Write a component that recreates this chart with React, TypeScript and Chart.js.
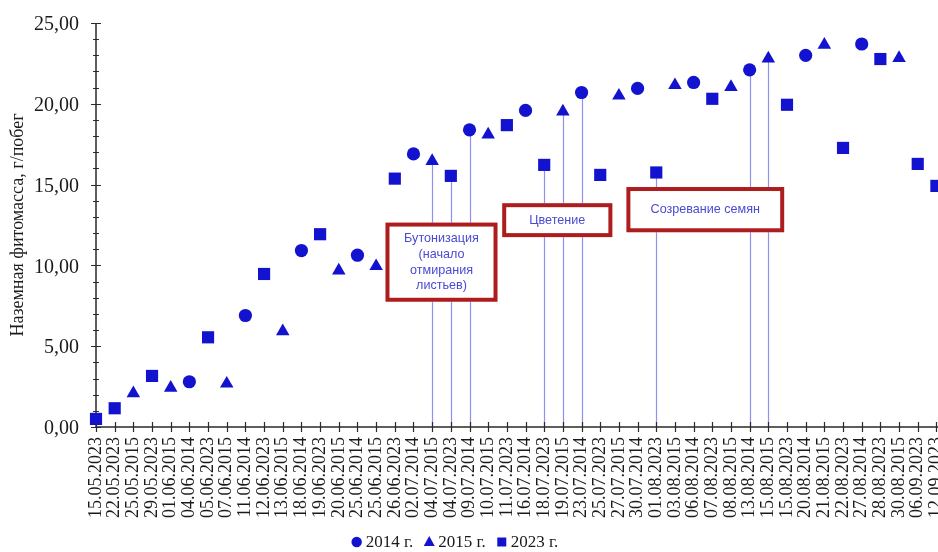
import { useEffect, useRef } from 'react';
import { Chart, registerables } from 'chart.js';

Chart.register(...registerables);

// Sampling dates along the x axis (all three seasons merged in calendar order)
const categories = [
  '15.05.2023', '22.05.2023', '25.05.2015', '29.05.2023', '01.06.2015', '04.06.2014',
  '05.06.2023', '07.06.2015', '11.06.2014', '12.06.2023', '13.06.2015', '18.06.2014',
  '19.06.2023', '20.06.2015', '25.06.2014', '25.06.2015', '26.06.2023', '02.07.2014',
  '04.07.2015', '04.07.2023', '09.07.2014', '10.07.2015', '11.07.2023', '16.07.2014',
  '18.07.2023', '19.07.2015', '23.07.2014', '25.07.2023', '27.07.2015', '30.07.2014',
  '01.08.2023', '03.08.2015', '06.08.2014', '07.08.2023', '08.08.2015', '13.08.2014',
  '15.08.2015', '15.08.2023', '20.08.2014', '21.08.2015', '22.08.2023', '27.08.2014',
  '28.08.2023', '30.08.2015', '06.09.2023', '12.09.2023',
];

const dates2014 = [
  '04.06.2014', '11.06.2014', '18.06.2014', '25.06.2014', '02.07.2014', '09.07.2014',
  '16.07.2014', '23.07.2014', '30.07.2014', '06.08.2014', '13.08.2014', '20.08.2014',
  '27.08.2014',
];
const mass2014 = [2.8, 6.9, 10.92, 10.63, 16.9, 18.39, 19.59, 20.7, 20.95, 21.32, 22.1, 23.0, 23.7];

const dates2015 = [
  '25.05.2015', '01.06.2015', '07.06.2015', '13.06.2015', '20.06.2015', '25.06.2015',
  '04.07.2015', '10.07.2015', '19.07.2015', '27.07.2015', '03.08.2015', '08.08.2015',
  '15.08.2015', '21.08.2015', '30.08.2015',
];
const mass2015 = [2.08, 2.42, 2.68, 5.92, 9.68, 9.95, 16.45, 18.1, 19.52, 20.5, 21.15, 21.03, 22.8, 23.65, 22.83];

const dates2023 = [
  '15.05.2023', '22.05.2023', '29.05.2023', '05.06.2023', '12.06.2023', '19.06.2023',
  '26.06.2023', '04.07.2023', '11.07.2023', '18.07.2023', '25.07.2023', '01.08.2023',
  '07.08.2023', '15.08.2023', '22.08.2023', '28.08.2023', '06.09.2023', '12.09.2023',
];
const mass2023 = [0.5, 1.16, 3.16, 5.55, 9.47, 11.93, 15.37, 15.54, 18.68, 16.22, 15.6, 15.75, 20.31, 19.94, 17.27, 22.77, 16.28, 14.92];

// Points that get a drop line down to the date axis
const dropLineDates = [
  '04.07.2015', '04.07.2023', '09.07.2014', '18.07.2023', '19.07.2015', '23.07.2014',
  '01.08.2023', '13.08.2014', '15.08.2015',
];

// Phenological phase labels (x in category index units, y in g/shoot)
const phaseBoxes = [
  { lines: ['Бутонизация', '(начало', 'отмирания', 'листьев)'], xMin: 15.5, xMax: 21.5, yMin: 7.75, yMax: 12.65 },
  { lines: ['Цветение'], xMin: 21.75, xMax: 27.65, yMin: 11.75, yMax: 13.85 },
  { lines: ['Созревание семян'], xMin: 28.4, xMax: 36.85, yMin: 12.05, yMax: 14.85 },
];

const yTitle = 'Наземная фитомасса, г/побег';

const MARK = '#1212cf';
const AXIS = '#2a2a2a';
const SERIF = '"Liberation Serif", "Times New Roman", serif';
const CANVAS_W = 945;
const CANVAS_H = 552;

const toPoints = (dates: string[], values: number[]) => dates.map((d, i) => ({ x: d, y: values[i] }));

const axisDecor = {
  id: 'axisDecor',
  beforeDatasetsDraw(chart: any) {
    const { ctx, chartArea, scales } = chart;
    const x = scales.x;
    const y = scales.y;
    ctx.save();
    // drop lines
    ctx.strokeStyle = '#9090f0';
    ctx.lineWidth = 1.2;
    chart.data.datasets.forEach((ds: any, di: number) => {
      const meta = chart.getDatasetMeta(di);
      ds.data.forEach((p: any, i: number) => {
        if (!dropLineDates.includes(p.x)) return;
        const el = meta.data[i];
        const px = Math.round(el.x) + 0.5;
        ctx.beginPath();
        ctx.moveTo(px, el.y);
        ctx.lineTo(px, chartArea.bottom);
        ctx.stroke();
      });
    });
    // axis lines
    ctx.strokeStyle = AXIS;
    ctx.lineWidth = 1.5;
    ctx.beginPath();
    ctx.moveTo(chartArea.left, chartArea.top);
    ctx.lineTo(chartArea.left, chartArea.bottom);
    ctx.lineTo(chart.width, chartArea.bottom);
    ctx.stroke();
    // x tick marks crossing the axis
    ctx.lineWidth = 1.2;
    ctx.beginPath();
    for (let i = 0; i < categories.length; i++) {
      const px = Math.round(x.getPixelForValue(i)) + 0.5;
      ctx.moveTo(px, chartArea.bottom - 5);
      ctx.lineTo(px, chartArea.bottom + 5);
    }
    // y major and minor ticks
    for (let v = 0; v <= 25; v++) {
      const py = Math.round(y.getPixelForValue(v)) + 0.5;
      const len = v % 5 === 0 ? 5 : 3;
      ctx.moveTo(chartArea.left - len, py);
      ctx.lineTo(chartArea.left + len, py);
    }
    ctx.stroke();
    ctx.restore();
  },
  afterDatasetsDraw(chart: any) {
    const { ctx, scales } = chart;
    const x = scales.x;
    const y = scales.y;
    ctx.save();
    phaseBoxes.forEach((b) => {
      const l = x.getPixelForValue(b.xMin);
      const r = x.getPixelForValue(b.xMax);
      const t = y.getPixelForValue(b.yMax);
      const btm = y.getPixelForValue(b.yMin);
      ctx.fillStyle = '#ffffff';
      ctx.fillRect(l, t, r - l, btm - t);
      ctx.strokeStyle = '#ae1d1d';
      ctx.lineWidth = 4;
      ctx.strokeRect(l + 2, t + 2, r - l - 4, btm - t - 4);
      ctx.fillStyle = '#4a4ad2';
      ctx.font = '12.6px "Liberation Sans", Arial, sans-serif';
      ctx.textAlign = 'center';
      ctx.textBaseline = 'middle';
      const lh = 15.7;
      const cy = (t + btm) / 2;
      const cx = (l + r) / 2;
      b.lines.forEach((line, i) => {
        ctx.fillText(line, cx, cy + (i - (b.lines.length - 1) / 2) * lh);
      });
    });
    ctx.restore();
  },
  afterDraw(chart: any) {
    // legend row
    const { ctx } = chart;
    ctx.save();
    ctx.font = `17px ${SERIF}`;
    ctx.textBaseline = 'middle';
    ctx.textAlign = 'left';
    const cy = 542;
    const markW = 10;
    const gap = 4;
    const itemGap = 11;
    const items = chart.data.datasets.map((ds: any) => ({
      label: ds.label as string,
      style: ds.pointStyle as string,
      w: markW + gap + ctx.measureText(ds.label).width,
    }));
    const total = items.reduce((s: number, it: any) => s + it.w, 0) + itemGap * (items.length - 1);
    let cx = 455 - total / 2;
    items.forEach((it: any) => {
      ctx.fillStyle = MARK;
      const mx = cx + markW / 2;
      ctx.beginPath();
      if (it.style === 'circle') {
        ctx.arc(mx, cy, 5.2, 0, Math.PI * 2);
      } else if (it.style === 'triangle') {
        ctx.moveTo(mx, cy - 6);
        ctx.lineTo(mx + 5.5, cy + 4);
        ctx.lineTo(mx - 5.5, cy + 4);
        ctx.closePath();
      } else {
        ctx.rect(mx - 4.5, cy - 4.5, 9, 9);
      }
      ctx.fill();
      ctx.fillStyle = '#1a1a1a';
      ctx.fillText(it.label, cx + markW + gap, cy + 1);
      cx += it.w + itemGap;
    });
    ctx.restore();
  },
};

export default function App() {
  const canvasRef = useRef<HTMLCanvasElement | null>(null);

  useEffect(() => {
    const canvas = canvasRef.current;
    if (!canvas) return;
    const common = {
      showLine: false,
      backgroundColor: MARK,
      borderColor: MARK,
      borderWidth: 0,
      clip: false as any,
    };
    const chart = new Chart(canvas, {
      type: 'line',
      data: {
        labels: categories,
        datasets: [
          { ...common, label: '2014 г.', data: toPoints(dates2014, mass2014) as any, pointStyle: 'circle', pointRadius: 6.6 },
          { ...common, label: '2015 г.', data: toPoints(dates2015, mass2015) as any, pointStyle: 'triangle', pointRadius: 7.8 },
          { ...common, label: '2023 г.', data: toPoints(dates2023, mass2023) as any, pointStyle: 'rect', pointRadius: 8.6 },
        ],
      },
      options: {
        responsive: false,
        animation: false,
        devicePixelRatio: 1,
        layout: { padding: { top: 23, right: 0, bottom: 20, left: 0 } },
        plugins: {
          legend: { display: false },
          tooltip: { enabled: false },
        },
        scales: {
          x: {
            type: 'category',
            offset: false,
            grid: { display: false, drawTicks: false },
            border: { display: false },
            ticks: {
              autoSkip: false,
              maxRotation: 90,
              minRotation: 90,
              padding: 10,
              color: '#1a1a1a',
              font: { family: SERIF, size: 18 },
            },
            afterFit: (s: any) => {
              s.height = 105;
              s.paddingLeft = 0;
              s.paddingRight = 0;
            },
          },
          y: {
            min: 0,
            max: 25,
            grid: { display: false, drawTicks: false },
            border: { display: false },
            ticks: {
              stepSize: 5,
              padding: 17,
              labelOffset: 2,
              color: '#1a1a1a',
              font: { family: SERIF, size: 20 },
              callback: (v: any) => Number(v).toFixed(2).replace('.', ','),
            },
            title: {
              display: true,
              text: yTitle,
              color: '#1a1a1a',
              font: { family: SERIF, size: 18 },
              padding: { top: 7, bottom: 0 },
            },
            afterFit: (s: any) => {
              s.width = 96;
              s.paddingTop = 0;
              s.paddingBottom = 0;
            },
          },
        },
      },
      plugins: [axisDecor],
    });
    return () => chart.destroy();
  }, []);

  return (
    <div style={{ position: 'fixed', left: 0, top: 0, width: 938, height: 552, overflow: 'hidden', background: '#fff' }}>
      <canvas ref={canvasRef} width={CANVAS_W} height={CANVAS_H} style={{ width: CANVAS_W, height: CANVAS_H, display: 'block' }} />
    </div>
  );
}
